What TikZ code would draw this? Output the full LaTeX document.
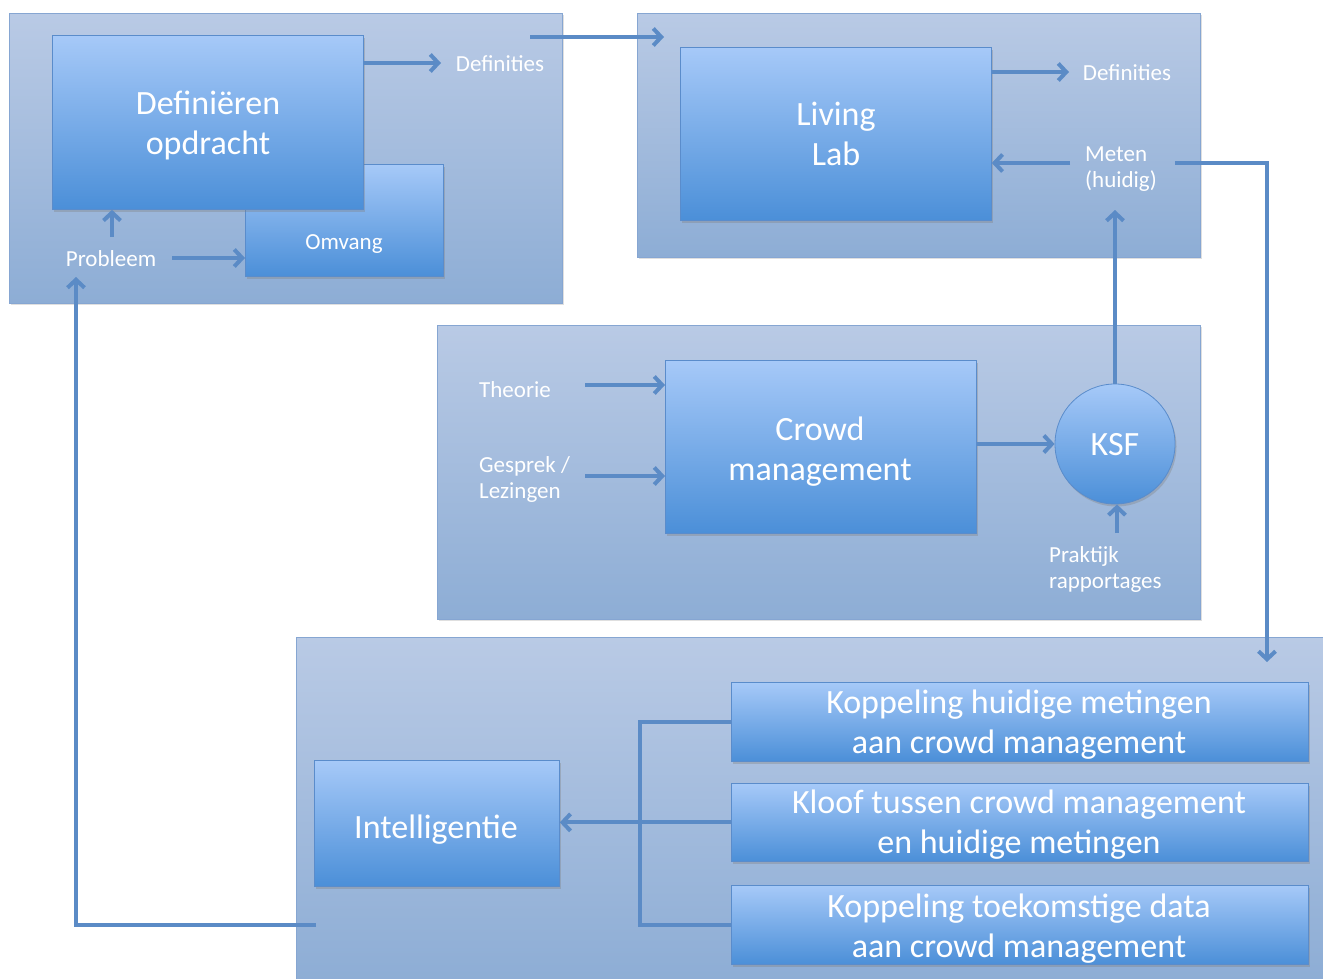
\documentclass[tikz,border=0pt]{standalone}
\usepackage{fontspec}
\setmainfont{Carlito}
\usetikzlibrary{arrows.meta,shadows}
\definecolor{paneltop}{HTML}{B9CAE5}
\definecolor{panelbot}{HTML}{8DADD5}
\definecolor{panelline}{HTML}{86A6D2}
\definecolor{boxtop}{HTML}{A6C9F8}
\definecolor{boxbot}{HTML}{4B8FD8}
\definecolor{boxline}{HTML}{5A8CCB}
\definecolor{arrowc}{HTML}{5B8BC6}
\tikzset{
  panel/.style={draw=panelline, line width=1.2pt, top color=paneltop, bottom color=panelbot, anchor=north west, inner sep=0pt,
    drop shadow={opacity=0.25, shadow xshift=1pt, shadow yshift=-1.5pt}},
  box/.style={draw=boxline, line width=0.8pt, top color=boxtop, bottom color=boxbot, anchor=north west, inner sep=0pt,
    drop shadow={opacity=0.35, shadow xshift=1.5pt, shadow yshift=-2.5pt}},
  big/.style={text=white, font=\fontsize{34}{40}\selectfont, align=center, inner sep=0pt, anchor=base},
  small/.style={text=white, font=\fontsize{23}{26}\selectfont, inner sep=0pt, anchor=base},
  arr/.style={draw=arrowc, line width=4pt, -{Straight Barb[length=8pt, width=17pt]}},
  ln/.style={draw=arrowc, line width=4pt},
}
\begin{document}
\begin{tikzpicture}[x=1pt, y=-1pt]
\useasboundingbox (0,0) rectangle (1323,979);
% panels
\node[panel, minimum width=553pt, minimum height=290pt] (p1) at (9,13) {};
\node[panel, minimum width=563pt, minimum height=244pt] (p2) at (637,13) {};
\node[panel, minimum width=763pt, minimum height=294pt] (p3) at (437,325) {};
\node[panel, minimum width=1030pt, minimum height=345pt] (p4) at (296,637) {};
% boxes
\node[box, minimum width=198pt, minimum height=112pt] (omv) at (245,164) {};
\node[box, minimum width=311pt, minimum height=174pt] (def) at (52,35) {};
\node[box, minimum width=311pt, minimum height=173pt] (ll) at (680,47) {};
\node[box, minimum width=311pt, minimum height=173pt] (cm) at (665,360) {};
\node[draw=boxline, line width=0.8pt, top color=boxtop, bottom color=boxbot, circle, minimum size=120pt, inner sep=0pt,
  drop shadow={opacity=0.35, shadow xshift=1.5pt, shadow yshift=-2.5pt}] (ksf) at (1115,444) {};
\node[box, minimum width=245pt, minimum height=126pt] (intel) at (314,760) {};
\node[box, minimum width=577pt, minimum height=79pt] (ka) at (731,682) {};
\node[box, minimum width=577pt, minimum height=78pt] (kb) at (731,783) {};
\node[box, minimum width=577pt, minimum height=79pt] (kc) at (731,885) {};
% big texts (anchor base = baseline of the last line)
\node[big] (tdef) at (208,155) {Definiëren\\opdracht};
\node[big] (tll) at (836,166) {Living\\Lab};
\node[big] (tcm) at (820,480) {Crowd\\management};
\node[big] (tksf) at (1115,455) {KSF};
\node[big] (tint) at (436,838) {Intelligentie};
\node[big] (tka) at (1019,753) {Koppeling huidige metingen\\aan crowd management};
\node[big] (tkb) at (1019,853) {Kloof tussen crowd management\\en huidige metingen};
\node[big] (tkc) at (1019,957) {Koppeling toekomstige data\\aan crowd management};
% small texts
\node[small] (omvt) at (344,249) {Omvang};
\node[small] (defi1) at (500,72) {Definities};
\node[small] (prob) at (111,266) {Probleem};
\node[small] (defi2) at (1127,81) {Definities};
\node[small, anchor=base west, align=left] (meten) at (1085,187) {Meten\\(huidig)};
\node[small] (theorie) at (515,397) {Theorie};
\node[small, anchor=base west, align=left] (gesprek) at (479,498) {Gesprek /\\Lezingen};
\node[small, anchor=base west, align=left] (praktijk) at (1049,588) {Praktijk\\rapportages};
% coordinates
\coordinate (a1) at (441,63);
\coordinate (d1s) at (530,37);
\coordinate (d1e) at (664,37);
\coordinate (pu) at (112,237);
\coordinate (pr) at (172,258);
\coordinate (ls) at (316,925);
\coordinate (le) at (76,277);
\coordinate (d2) at (1069,72);
\coordinate (m1) at (1070,163);
\coordinate (m2) at (1175,163);
\coordinate (m3) at (1267,662);
\coordinate (ku) at (1115,210);
\coordinate (t1) at (585,385);
\coordinate (g1) at (585,476);
\coordinate (pk) at (1117,533);
\coordinate (bx) at (640,822);
% connectors
\draw[arr] (def.east |- a1) -- (a1);
\draw[arr] (d1s) -- (d1e);
\draw[arr] (pu) -- (pu |- def.south);
\draw[arr] (pr) -- (pr -| omv.west);
\draw[arr] (ls) -| (le);
\draw[arr] (ll.east |- d2) -- (d2);
\draw[arr] (m1) -- (m1 -| ll.east);
\draw[arr] (m2) -| (m3);
\draw[arr] (ksf.north) -- (ku);
\draw[arr] (t1) -- (t1 -| cm.west);
\draw[arr] (g1) -- (g1 -| cm.west);
\draw[arr] (cm.east |- ksf.west) -- (ksf.west);
\draw[arr] (pk) -- (pk |- ksf.south);
\draw[ln] (ka.west) -| (bx) |- (kc.west);
\draw[arr] (kb.west) -- (intel.east |- kb.west);
\end{tikzpicture}
\end{document}
